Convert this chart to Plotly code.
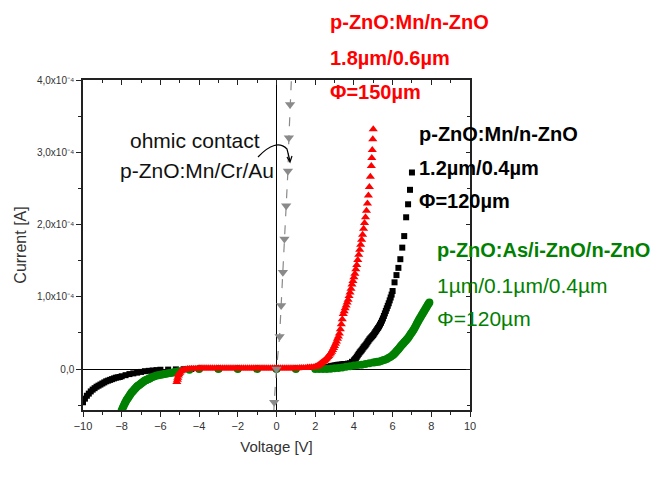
import plotly.graph_objects as go

# ---------------- data (current in units of 1e-4 A) ----------------
red_v = [-5.15, -5.12, -5.1, -5.07, -5.05, -5.0, -4.95, -4.9, -4.8, -4.7, -4.6, -4.5, -4.4, -4.3,
         -4.2, -4.1, -4.0, -3.9, -3.8, -3.7, -3.6, -3.5, -3.4, -3.3, -3.2, -3.1, -3.0, -2.9,
         -2.8, -2.7, -2.6, -2.5, -2.4, -2.3, -2.2, -2.1, -2.0, -1.9, -1.8, -1.7, -1.6, -1.5,
         -1.4, -1.3, -1.2, -1.1, -1.0, -0.9, -0.8, -0.7, -0.6, -0.5, -0.4, -0.3, -0.2, -0.1,
         0.0, 0.1, 0.2, 0.3, 0.4, 0.5, 0.6, 0.7, 0.8, 0.9, 1.0, 1.1, 1.2, 1.3, 1.4, 1.5,
         1.6, 1.7, 1.8, 1.9,
         2.0, 2.05, 2.1, 2.15, 2.2, 2.25, 2.3, 2.35, 2.4, 2.45, 2.5, 2.55, 2.6, 2.65, 2.7, 2.75,
         2.8, 2.85, 2.9, 2.95, 3.0, 3.05, 3.1, 3.15, 3.2, 3.25, 3.3, 3.35, 3.4, 3.45, 3.5, 3.55,
         3.6, 3.65, 3.7, 3.75, 3.8, 3.85, 3.9, 3.95, 4.0, 4.05, 4.1, 4.15, 4.2, 4.25, 4.3, 4.35,
         4.4, 4.45, 4.5, 4.55, 4.6, 4.65, 4.7, 4.75, 4.8, 4.85, 4.9, 4.925, 4.95, 4.975, 5.0]
red_i = [-0.18, -0.15, -0.12, -0.09, -0.07, -0.05, -0.03, -0.02, -0.01, -0.005, 0.0, 0.0, 0.005, 0.005,
         0.005, 0.005, 0.01, 0.01, 0.01, 0.01, 0.01, 0.01, 0.01, 0.01, 0.01, 0.01, 0.01, 0.01,
         0.01, 0.01, 0.01, 0.01, 0.01, 0.01, 0.01, 0.01, 0.01, 0.01, 0.01, 0.01, 0.01, 0.01,
         0.01, 0.01, 0.01, 0.01, 0.01, 0.01, 0.01, 0.01, 0.01, 0.01, 0.01, 0.01, 0.01, 0.01,
         0.01, 0.01, 0.01, 0.01, 0.01, 0.01, 0.01, 0.01, 0.01, 0.01, 0.01, 0.01, 0.015, 0.015, 0.015, 0.015,
         0.02, 0.02, 0.025, 0.025,
         0.03, 0.035, 0.04, 0.05, 0.06, 0.07, 0.08, 0.09, 0.10, 0.11, 0.12, 0.135, 0.15, 0.165, 0.18, 0.20,
         0.22, 0.24, 0.265, 0.29, 0.32, 0.35, 0.38, 0.42, 0.45, 0.49, 0.55, 0.62, 0.69, 0.76, 0.80, 0.84,
         0.88, 0.92, 0.96, 1.01, 1.06, 1.11, 1.17, 1.22, 1.27, 1.32, 1.38, 1.44, 1.51, 1.58, 1.65, 1.72,
         1.79, 1.86, 1.94, 2.02, 2.10, 2.19, 2.29, 2.40, 2.52, 2.66, 2.81, 2.92, 3.03, 3.18, 3.32]

black_v = [-10.0, -9.9, -9.8, -9.7, -9.6, -9.5, -9.4, -9.3, -9.2, -9.1, -9.0, -8.9, -8.8, -8.7,
           -8.6, -8.5, -8.4, -8.3, -8.2, -8.1, -8.0, -7.8, -7.6, -7.4, -7.2, -7.0, -6.8, -6.6,
           -6.4, -6.2, -6.0, -5.6, -5.2, -4.8, -4.4, -4.0, -3.0, -2.0, -1.0, 0.0, 1.0, 2.0,
           2.5, 2.6, 2.7, 2.8, 2.9, 3.0, 3.1, 3.2, 3.3, 3.4, 3.5, 3.6, 3.7, 3.8, 3.9,
           4.0, 4.05, 4.1, 4.15, 4.2, 4.25, 4.3, 4.35, 4.4, 4.45, 4.5, 4.55, 4.6, 4.65, 4.7, 4.75,
           4.8, 4.85, 4.9, 4.95, 5.0, 5.05, 5.1, 5.15, 5.2, 5.25, 5.3, 5.35, 5.4, 5.45, 5.5, 5.55,
           5.6, 5.65, 5.7, 5.75, 5.8, 5.85, 5.9, 5.95, 6.0, 6.1, 6.2, 6.3, 6.4, 6.5, 6.6, 6.7,
           6.8, 6.9, 7.0]
black_i = [-0.46, -0.41, -0.37, -0.34, -0.31, -0.285, -0.265, -0.245, -0.23, -0.215, -0.20, -0.185, -0.17, -0.16,
           -0.15, -0.14, -0.13, -0.12, -0.115, -0.11, -0.10, -0.085, -0.07, -0.06, -0.05, -0.04, -0.03, -0.025,
           -0.02, -0.015, -0.01, -0.008, -0.005, -0.003, 0.0, 0.0, 0.0, 0.0, 0.0, 0.0, 0.0, 0.01,
           0.02, 0.025, 0.03, 0.04, 0.045, 0.05, 0.055, 0.06, 0.06, 0.065, 0.07, 0.07, 0.075, 0.08, 0.10,
           0.12, 0.135, 0.15, 0.17, 0.19, 0.21, 0.23, 0.245, 0.26, 0.28, 0.30, 0.315, 0.33, 0.35, 0.37, 0.39,
           0.41, 0.425, 0.44, 0.455, 0.47, 0.49, 0.51, 0.53, 0.55, 0.57, 0.59, 0.615, 0.64, 0.67, 0.70, 0.735,
           0.77, 0.805, 0.84, 0.875, 0.91, 0.95, 0.99, 1.03, 1.08, 1.20, 1.30, 1.40, 1.52, 1.68, 1.84, 2.10,
           2.28, 2.48, 2.72]

green_v = [-8.0, -7.95, -7.9, -7.85, -7.8, -7.75, -7.7, -7.65, -7.6, -7.55, -7.5, -7.45, -7.4, -7.35,
           -7.3, -7.25, -7.2, -7.15, -7.1, -7.05, -7.0, -6.95, -6.9, -6.85, -6.8, -6.75, -6.7, -6.65,
           -6.6, -6.55, -6.5, -6.4, -6.3, -6.2, -6.1, -6.0, -5.9, -5.8, -5.7, -5.6, -5.5, -5.4,
           -5.3, -5.2, -5.1, -5.0, -4.5, -4.0, -3.0, -2.0, -1.0, 0.0, 1.0, 2.0, 2.2, 2.4, 2.6,
           2.8, 3.0, 3.2, 3.4, 3.6, 3.8, 4.0, 4.2, 4.4, 4.6, 4.8, 5.0, 5.1, 5.2, 5.3, 5.4, 5.5,
           5.6, 5.7, 5.8, 5.9, 6.0, 6.05, 6.1, 6.15, 6.2, 6.25, 6.3, 6.35, 6.4, 6.45, 6.5, 6.55,
           6.6, 6.65, 6.7, 6.75, 6.8, 6.85, 6.9, 6.95, 7.0, 7.05, 7.1, 7.15, 7.2, 7.25, 7.3, 7.35,
           7.4, 7.45, 7.5, 7.55, 7.6, 7.65, 7.7, 7.75, 7.8, 7.85, 7.9]
green_i = [-0.57, -0.54, -0.51, -0.48, -0.455, -0.43, -0.41, -0.39, -0.37, -0.35, -0.33, -0.315, -0.30, -0.285,
           -0.27, -0.255, -0.24, -0.23, -0.22, -0.21, -0.20, -0.19, -0.18, -0.17, -0.16, -0.155, -0.15, -0.14,
           -0.135, -0.13, -0.12, -0.11, -0.10, -0.09, -0.085, -0.08, -0.075, -0.07, -0.065, -0.06, -0.055, -0.05,
           -0.045, -0.04, -0.035, -0.03, -0.01, 0.0, 0.0, 0.0, 0.0, 0.0, 0.0, 0.0, 0.0, 0.0, 0.0,
           0.005, 0.01, 0.015, 0.02, 0.03, 0.04, 0.05, 0.055, 0.06, 0.07, 0.08, 0.09, 0.095, 0.10, 0.10, 0.11, 0.12,
           0.13, 0.14, 0.155, 0.17, 0.19, 0.20, 0.215, 0.23, 0.245, 0.26, 0.275, 0.29, 0.31, 0.325, 0.34, 0.355,
           0.37, 0.385, 0.40, 0.415, 0.43, 0.45, 0.47, 0.49, 0.51, 0.53, 0.55, 0.575, 0.60, 0.625, 0.65, 0.675,
           0.70, 0.72, 0.745, 0.765, 0.79, 0.81, 0.835, 0.855, 0.88, 0.90, 0.92]

gray_v = [-0.14, -0.12, 0.0, 0.16, 0.24, 0.33, 0.41, 0.50, 0.59, 0.64, 0.70, 0.80]
gray_i = [-0.62, -0.46, 0.0, 0.45, 0.88, 1.34, 1.80, 2.26, 2.74, 3.20, 3.66, 4.20]

x_ticks = [-10, -8, -6, -4, -2, 0, 2, 4, 6, 8, 10]
y_ticks = [0, 1, 2, 3, 4]
y_ticktext = ["0,0", "1,0x10⁻⁴", "2,0x10⁻⁴", "3,0x10⁻⁴", "4,0x10⁻⁴"]

RED = "#ff0000"
GREEN = "#008000"
GRAY = "#8a8a8a"

fig = go.Figure()
fig.add_trace(go.Scatter(x=black_v, y=black_i, mode="markers",
                         marker=dict(symbol="square", size=6, color="black", line=dict(width=0))))
fig.add_trace(go.Scatter(x=green_v, y=green_i, mode="markers",
                         marker=dict(symbol="circle", size=8, color=GREEN, line=dict(width=0))))
fig.add_trace(go.Scatter(x=red_v, y=red_i, mode="markers",
                         marker=dict(symbol="triangle-up", size=8, color=RED, line=dict(width=0))))
fig.add_trace(go.Scatter(x=gray_v, y=gray_i, mode="lines+markers",
                         line=dict(color=GRAY, width=1.2, dash="dash"),
                         marker=dict(symbol="triangle-down", size=9, color=GRAY, line=dict(width=0))))

L, R, T, B = 83, 184, 80, 67
W, H = 654, 477
pw, ph = W - L - R, H - T - B


def px(x):
    return (x - L) / pw


def py(y):
    return (H - B - y) / ph


axis_common = dict(showline=True, linecolor="#222", linewidth=1.5, showgrid=False)
FONT = "Arial, Liberation Sans, sans-serif"

fig.update_layout(
    width=W, height=H, margin=dict(l=L, r=R, t=T, b=B),
    paper_bgcolor="white", plot_bgcolor="white", showlegend=False,
    font=dict(family=FONT, color="#333", size=12),
    xaxis=dict(range=[-10, 10], tickvals=x_ticks, ticks="outside", ticklen=5, tickwidth=1.2,
               tickcolor="#222", tickfont=dict(size=11, color="#333"),
               minor=dict(dtick=1, ticks="outside", ticklen=3, tickcolor="#222", tickwidth=1),
               zeroline=True, zerolinecolor="black", zerolinewidth=1.2,
               title=dict(text="Voltage [V]", font=dict(size=15, color="#333"), standoff=11),
               **axis_common),
    yaxis=dict(range=[-0.567, 4.0], tickvals=y_ticks, ticktext=y_ticktext, ticks="outside",
               ticklen=5, tickwidth=1.2, tickcolor="#222", tickfont=dict(size=10, color="#333"),
               minor=dict(dtick=0.5, ticks="outside", ticklen=3, tickcolor="#222", tickwidth=1),
               zeroline=True, zerolinecolor="black", zerolinewidth=1.2,
               title=dict(text="Current [A]", font=dict(size=16, color="#333"), standoff=6),
               **axis_common),
    xaxis2=dict(overlaying="x", matches="x", side="top", anchor="y", showticklabels=False,
                tickvals=x_ticks, ticks="inside", ticklen=5, tickcolor="#222",
                minor=dict(dtick=1, ticks="inside", ticklen=3, tickcolor="#222"),
                zeroline=False, **axis_common),
    yaxis2=dict(overlaying="y", matches="y", side="right", anchor="x", showticklabels=False,
                tickvals=y_ticks, ticks="inside", ticklen=4, tickcolor="#222",
                minor=dict(dtick=0.5, ticks="inside", ticklen=3, tickcolor="#222"),
                zeroline=False, **axis_common),
)
fig.add_trace(go.Scatter(x=[None], y=[None], xaxis="x2", yaxis="y2", showlegend=False,
                         hoverinfo="skip"))

ann = []


def add_text(text, x, y, color, size=20, bold=True, xanchor="left"):
    t = "<b>" + text + "</b>" if bold else text
    ann.append(dict(text=t, x=px(x), y=py(y), xref="paper", yref="paper", xanchor=xanchor,
                    yanchor="middle", showarrow=False,
                    font=dict(size=size, color=color, family=FONT)))


add_text("p-ZnO:Mn/n-ZnO", 328, 22, RED)
add_text("1.8µm/0.6µm", 328, 58, RED)
add_text("Φ=150µm", 328, 92, RED)
add_text("p-ZnO:Mn/n-ZnO", 417, 134, "black")
add_text("1.2µm/0.4µm", 417, 168, "black")
add_text("Φ=120µm", 417, 201, "black")
add_text("p-ZnO:As/i-ZnO/n-ZnO", 435, 250, GREEN)
add_text("1µm/0.1µm/0.4µm", 435, 285, GREEN, size=21, bold=False)
add_text("Φ=120µm", 435, 318, GREEN, size=21, bold=False)
add_text("ohmic contact", 195, 140, "#111", size=21, bold=False, xanchor="center")
add_text("p-ZnO:Mn/Cr/Au", 197, 170, "#111", size=21, bold=False, xanchor="center")
fig.update_layout(annotations=ann)

fig.add_shape(type="path", xref="paper", yref="paper",
              path=f"M {px(258)},{py(157)} Q {px(276)},{py(138)} {px(287)},{py(149)} L {px(290)},{py(161)}",
              line=dict(color="black", width=1.2))
fig.add_shape(type="path", xref="paper", yref="paper",
              path=f"M {px(287)},{py(157)} L {px(290)},{py(162)} L {px(292)},{py(156)}",
              line=dict(color="black", width=1.2))

fig.write_html("out.html")
